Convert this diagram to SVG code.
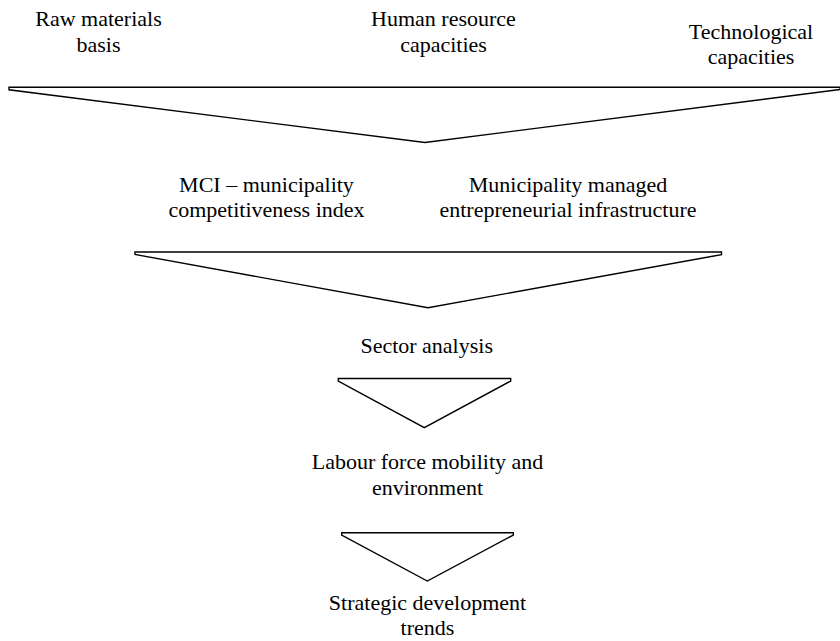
<svg xmlns="http://www.w3.org/2000/svg" width="840" height="641" viewBox="0 0 840 641">
<style>
text{font-family:'Liberation Serif','DejaVu Serif',serif;font-size:22px;fill:#000;text-anchor:middle}
.f{fill:#fff;stroke:#000;stroke-width:1.4;stroke-linejoin:miter}
</style>
<rect width="840" height="641" fill="#fff"/>
<g font-family="Liberation Serif, DejaVu Serif, serif" font-size="22" text-anchor="middle">
<g id="raw"><text x="98.5" y="26">Raw materials</text><text x="98.5" y="51.5">basis</text></g>
<g id="human"><text x="443.5" y="26">Human resource</text><text x="443.5" y="51.5">capacities</text></g>
<g id="tech"><text x="751" y="38.5">Technological</text><text x="751" y="63.5">capacities</text></g>
<g id="mci"><text x="266.5" y="191.5">MCI – municipality</text><text x="266.5" y="216.5">competitiveness index</text></g>
<g id="infra"><text x="568" y="191.5">Municipality managed</text><text x="568" y="216.5">entrepreneurial infrastructure</text></g>
<g id="sector"><text x="426.7" y="353">Sector analysis</text></g>
<g id="labour"><text x="427.5" y="469">Labour force mobility and</text><text x="427.5" y="494.5">environment</text></g>
<g id="strategic"><text x="427.5" y="609.5">Strategic development</text><text x="427.5" y="635">trends</text></g>
</g>
<g id="connectors">
<polygon id="funnel1" class="f" points="9,87.2 840,87.2 840,89.5 425,142.5 9,89.8"/>
<polygon id="funnel2" class="f" points="135,252 721.5,252 721.5,254.6 428,307.7 135,254.5"/>
<polygon id="funnel3" class="f" points="338.3,378.5 510.7,378.5 510.7,381 424.3,427.7 338.3,381"/>
<polygon id="funnel4" class="f" points="341.7,532.8 513.3,532.8 513.3,535 427.3,581 341.7,535"/>
</g>
</svg>
